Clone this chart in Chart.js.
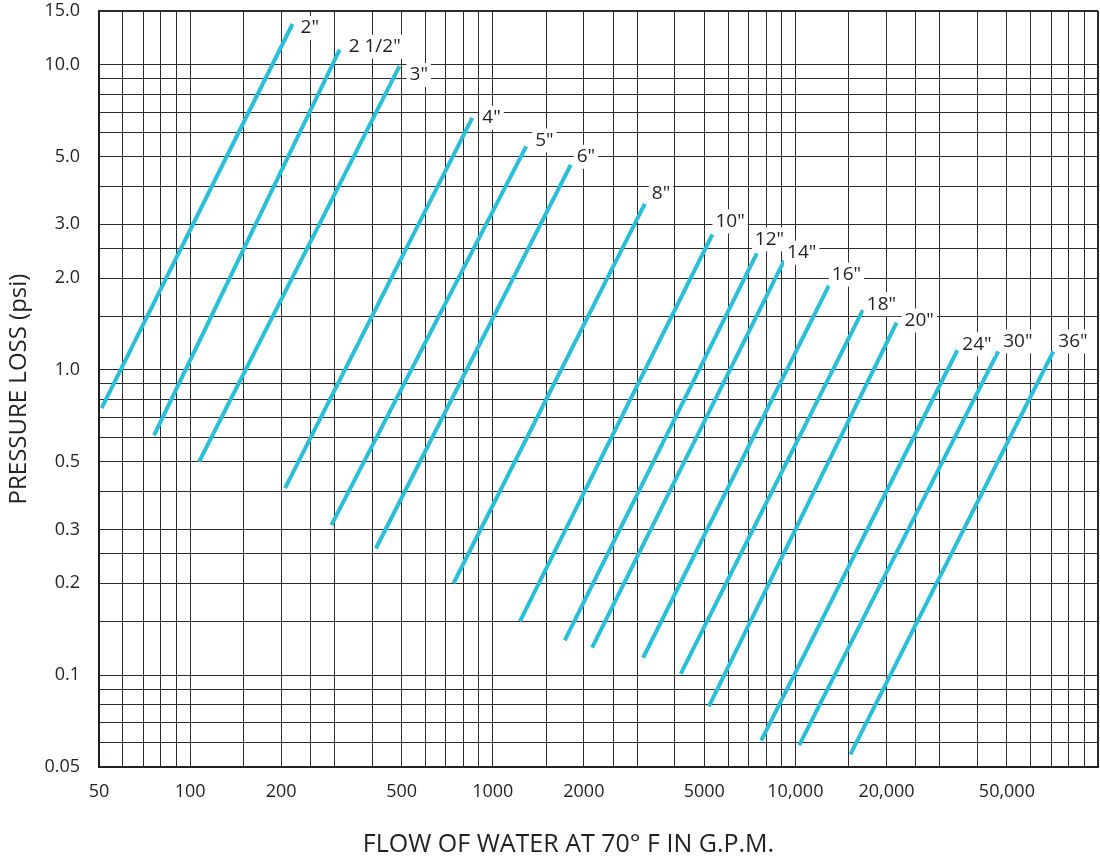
<!DOCTYPE html>
<html>
<head>
<meta charset="utf-8">
<title>Pressure loss vs flow</title>
<script src="https://cdn.jsdelivr.net/npm/chart.js@4.4.1/dist/chart.umd.min.js"></script>
<style>
  html, body { margin: 0; padding: 0; background: #fff; }
  #wrap { width: 1100px; height: 860px; }
</style>
</head>
<body>
<div id="wrap"><canvas id="chart" width="1100" height="860"></canvas></div>
<script>
// one straight line per pipe size
const pipeSizes = ['2"', '2 1/2"', '3"', '4"', '5"', '6"', '8"', '10"', '12"', '14"', '16"', '18"', '20"', '24"', '30"', '36"'];
const flowLow  = [51, 76, 107, 206, 293, 411, 742, 1230, 1730, 2130, 3140, 4180, 5180, 7710, 10300, 15200];
const lossLow  = [0.75, 0.61, 0.50, 0.41, 0.31, 0.26, 0.20, 0.15, 0.13, 0.123, 0.114, 0.101, 0.079, 0.061, 0.059, 0.055];
const flowHigh = [218, 312, 492, 856, 1290, 1810, 3180, 5320, 7460, 9180, 12900, 16700, 21600, 34300, 46800, 71200];
const lossHigh = [13.6, 11.2, 9.9, 6.7, 5.4, 4.7, 3.5, 2.78, 2.41, 2.28, 1.89, 1.57, 1.43, 1.16, 1.15, 1.15];

// grid lines and tick labels
const xGridValues = [50, 60, 70, 80, 90, 100, 150, 200, 250, 300, 400, 500, 600, 700, 800, 900,
  1000, 1500, 2000, 2500, 3000, 4000, 5000, 6000, 7000, 8000, 9000,
  10000, 15000, 20000, 25000, 30000, 40000, 50000, 60000, 70000, 80000, 90000, 100000];
const xTickValues = [50, 100, 200, 500, 1000, 2000, 5000, 10000, 20000, 50000];
const xTickText = ['50', '100', '200', '500', '1000', '2000', '5000', '10,000', '20,000', '50,000'];
const yGridValues = [0.05, 0.06, 0.07, 0.08, 0.09, 0.1, 0.15, 0.2, 0.25, 0.3, 0.4, 0.5, 0.6, 0.7, 0.8, 0.9,
  1, 1.5, 2, 2.5, 3, 4, 5, 6, 7, 8, 9, 10, 15];
const yTickValues = [15, 10, 5, 3, 2, 1, 0.5, 0.3, 0.2, 0.1, 0.05];
const yTickText = ['15.0', '10.0', '5.0', '3.0', '2.0', '1.0', '0.5', '0.3', '0.2', '0.1', '0.05'];

// small pixel nudges for the size labels (text left / middle vs. line end)
const labelNudge = [[8, 4], [9, -3], [10, 9], [10, 0], [9, -6], [6, -8], [7, -10], [3, -13],
  [-2, -14], [3, -8], [3, -11], [4, -6], [8, -2], [5, -6], [5, -10], [5, -10]];

const INK = '#231f20';
const CYAN = '#29bfd9';
const GRID = '#2b2b2b';
const FONT = '"Open Sans", "DejaVu Sans", sans-serif';

const datasets = pipeSizes.map((s, i) => ({
  label: s,
  data: [{x: flowLow[i], y: lossLow[i]}, {x: flowHigh[i], y: lossHigh[i]}],
  showLine: true,
  borderColor: CYAN,
  borderWidth: 4,
  borderCapStyle: 'butt',
  pointRadius: 0,
  pointHoverRadius: 0
}));

// labels at the upper end of each line, on a white patch
const sizeLabels = {
  id: 'sizeLabels',
  afterDatasetsDraw(chart) {
    const ctx = chart.ctx;
    ctx.save();
    ctx.font = '19px ' + FONT;
    ctx.textBaseline = 'middle';
    ctx.textAlign = 'left';
    chart.data.datasets.forEach((ds, i) => {
      const pt = chart.getDatasetMeta(i).data[1];
      const tx = pt.x + labelNudge[i][0];
      const ty = pt.y + labelNudge[i][1];
      const w = ctx.measureText(ds.label).width;
      ctx.fillStyle = '#fff';
      ctx.fillRect(tx - 3, ty - 12, w + 6, 24);
      ctx.fillStyle = INK;
      ctx.fillText(ds.label, tx, ty);
    });
    ctx.restore();
  }
};

// x axis title sits a bit left of the plot centre
const xTitle = {
  id: 'xTitle',
  afterDraw(chart) {
    const {ctx, chartArea} = chart;
    ctx.save();
    ctx.font = '25px ' + FONT;
    ctx.fillStyle = INK;
    ctx.textAlign = 'center';
    ctx.textBaseline = 'middle';
    ctx.fillText('FLOW OF WATER AT 70° F IN G.P.M.', (chartArea.left + chartArea.right) / 2 - 30, chartArea.bottom + 78);
    ctx.restore();
  }
};

const edgeWidth = (edge) => (c) => (c.tick && c.tick.value === edge ? 2 : 1);

new Chart(document.getElementById('chart'), {
  type: 'scatter',
  data: { datasets: datasets },
  plugins: [sizeLabels, xTitle],
  options: {
    responsive: false,
    animation: false,
    events: [],
    layout: { padding: { top: 11, right: 2, left: 0, bottom: 0 } },
    plugins: { legend: { display: false }, tooltip: { enabled: false } },
    scales: {
      x: {
        type: 'logarithmic',
        min: 50,
        max: 100000,
        bounds: 'data',
        afterBuildTicks: (s) => { s.ticks = xGridValues.map(v => ({value: v})); },
        afterFit: (s) => { s.height = 93; s.paddingLeft = 0; s.paddingRight = 0; },
        grid: { color: GRID, lineWidth: edgeWidth(100000), drawTicks: false },
        border: { color: INK, width: 2 },
        ticks: {
          autoSkip: false,
          maxRotation: 0,
          minRotation: 0,
          padding: 14,
          color: INK,
          font: { family: FONT, size: 18 },
          callback: (v) => { const k = xTickValues.indexOf(v); return k < 0 ? '' : xTickText[k]; }
        }
      },
      y: {
        type: 'logarithmic',
        min: 0.05,
        max: 15,
        bounds: 'data',
        afterBuildTicks: (s) => { s.ticks = yGridValues.map(v => ({value: v})); },
        afterFit: (s) => { s.width = 99; s.paddingTop = 0; s.paddingBottom = 0; },
        grid: { color: GRID, lineWidth: edgeWidth(15), drawTicks: false },
        border: { color: INK, width: 2 },
        title: {
          display: true,
          text: 'PRESSURE LOSS (psi)',
          color: INK,
          font: { family: FONT, size: 24 },
          padding: { top: 5, bottom: 0 }
        },
        ticks: {
          autoSkip: false,
          padding: 19,
          color: INK,
          font: { family: FONT, size: 18 },
          callback: (v) => { const k = yTickValues.indexOf(v); return k < 0 ? '' : yTickText[k]; }
        }
      }
    }
  }
});
</script>
</body>
</html>
